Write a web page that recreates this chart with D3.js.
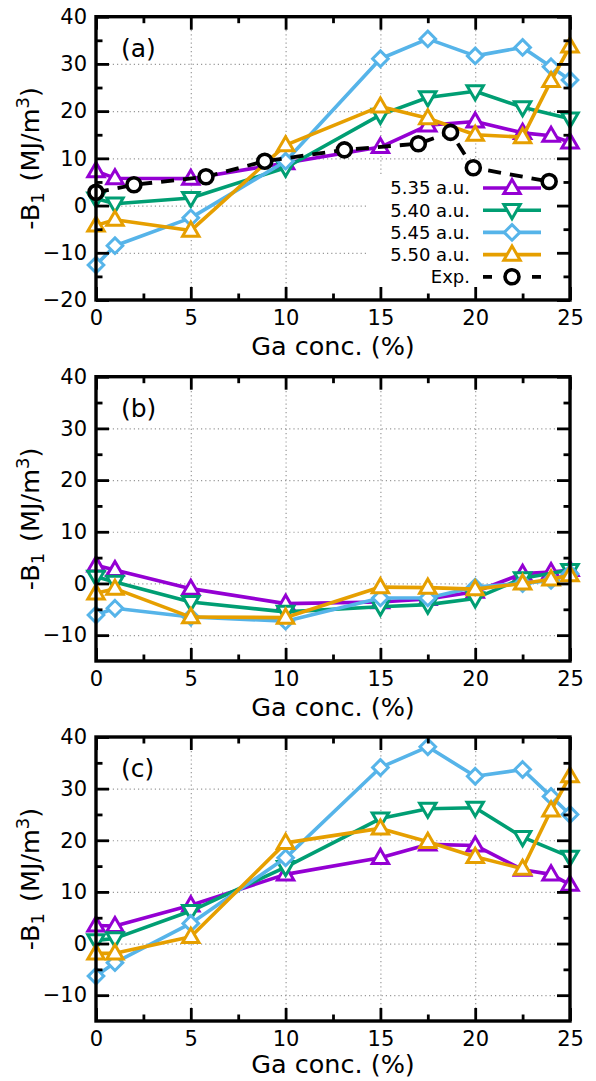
<!DOCTYPE html>
<html>
<head>
<meta charset="utf-8">
<script src="https://d3js.org/d3.v7.min.js"></script>
<style>
  html, body { margin: 0; padding: 0; background: #fff; }
  svg { display: block; font-family: "DejaVu Sans", Verdana, sans-serif; }
</style>
</head>
<body>
<div id="chart"></div>
<script>
// Ga concentration (%) at which the calculations were done
const gaConc = [0, 1, 5, 10, 15, 17.5, 20, 22.5, 24, 25];

// Panel (a): -B1 (MJ/m^3) for four lattice constants
const a535 = [7.3, 5.8, 5.7, 9.0, 12.4, 17.0, 17.8, 15.4, 14.8, 13.4];
const a540 = [1.5, 0.4, 1.6, 8.0, 19.2, 22.9, 24.2, 20.8, null, 18.4];
const a545 = [-12.6, -8.5, -2.6, 9.4, 31.1, 35.3, 31.7, 33.5, 29.4, 26.6];
const a550 = [-4.2, -3.0, -5.3, 12.8, 21.0, 18.5, 15.0, 14.5, 26.4, 33.7];

// Panel (a): experimental values
const expConc = [0, 2, 5.8, 8.9, 13.1, 17, 18.7, 19.9, 23.9];
const expB1 = [2.8, 4.4, 6.1, 9.4, 11.8, 13.1, 15.5, 8.0, 5.1];

// Panel (b)
const b535 = [3.5, 2.6, -1.0, -3.9, -3.6, -3.0, -1.6, 1.9, 2.2, 2.6];
const b540 = [1.3, 0.3, -3.6, -5.5, -4.5, -4.1, -2.9, 1.0, null, 2.6];
const b545 = [-6.1, -4.8, -6.5, -7.3, -2.8, -2.8, -0.7, 0.0, 0.6, 1.9];
const b550 = [-1.9, -1.0, -6.5, -6.6, -0.7, -0.8, -1.1, 0.0, 0.8, 1.6];

// Panel (c)
const c535 = [3.5, 3.4, 7.4, 13.4, 16.6, 19.2, 19.0, 14.3, 13.4, 11.4];
const c540 = [0.6, 1.0, 6.3, 14.8, 24.2, 26.1, 26.3, 20.6, null, 16.8];
const c545 = [-6.3, -3.7, 3.9, 16.6, 34.1, 38.1, 32.4, 33.7, 28.5, 25.0];
const c550 = [-1.9, -1.9, 1.3, 19.5, 22.3, 19.7, 16.8, 14.5, 25.8, 32.4];

const seriesNames = ["5.35 a.u.", "5.40 a.u.", "5.45 a.u.", "5.50 a.u."];
const expName = "Exp.";
const panelLabels = ["(a)", "(b)", "(c)"];

const xTicks = [0, 5, 10, 15, 20, 25];
const xMinorTicks = [2.5, 7.5, 12.5, 17.5, 22.5];
const yTicksA = [-20, -10, 0, 10, 20, 30, 40];
const yMinorA = [-15, -5, 5, 15, 25, 35];
const yTicksBC = [-10, 0, 10, 20, 30, 40];
const yMinorBC = [-5, 5, 15, 25, 35];

const xTitle = "Ga conc. (%)";

// ---- styling ----
const colors = ["#9400d3", "#009e73", "#56b4e9", "#e69f00"];
const shapes = ["up", "down", "diamond", "up"];

const W = 596, H = 1081;
const left = 96, right = 570;
const panels = [
  { top: 16.7, bottom: 300, yDomain: [-20, 40], yTicks: yTicksA, yMinor: yMinorA,
    series: [a535, a540, a545, a550], exp: true, titleGap: 55 },
  { top: 376.7, bottom: 661, yDomain: [-15, 40], yTicks: yTicksBC, yMinor: yMinorBC,
    series: [b535, b540, b545, b550], exp: false, titleGap: 55 },
  { top: 737, bottom: 1021, yDomain: [-15, 40], yTicks: yTicksBC, yMinor: yMinorBC,
    series: [c535, c540, c545, c550], exp: false, titleGap: 52 }
];

const svg = d3.select("#chart").append("svg")
  .attr("width", W).attr("height", H);

const x = d3.scaleLinear().domain([0, 25]).range([left, right]);

function markerPath(shape) {
  if (shape === "up") return "M0,-8.5L8.2,5.6L-8.2,5.6Z";
  if (shape === "down") return "M0,8.5L8.2,-5.6L-8.2,-5.6Z";
  if (shape === "diamond") return "M0,-7.8L7.8,0L0,7.8L-7.8,0Z";
  return d3.symbol(d3.symbolCircle, 140)();
}

function styleTicks(g, width) {
  g.select(".domain").remove();
  g.selectAll(".tick line").attr("stroke", "#000").attr("stroke-width", width);
}

panels.forEach((p, i) => {
  const y = d3.scaleLinear().domain(p.yDomain).range([p.bottom, p.top]);
  const ph = p.bottom - p.top;
  const g = svg.append("g");

  // dotted grid at major ticks
  const grid = g.append("g").attr("class", "grid");
  grid.append("g").attr("transform", `translate(0,${p.bottom})`)
    .call(d3.axisBottom(x).tickValues(xTicks.slice(1, -1)).tickSize(-ph).tickFormat(""))
    .call(s => s.select(".domain").remove());
  grid.append("g").attr("transform", `translate(${left},0)`)
    .call(d3.axisLeft(y).tickValues(p.yTicks.filter(v => v > p.yDomain[0] && v < p.yDomain[1]))
      .tickSize(-(right - left)).tickFormat(""))
    .call(s => s.select(".domain").remove());
  grid.selectAll(".tick line")
    .attr("stroke", "#999").attr("stroke-width", 1.2).attr("stroke-dasharray", "1.2,3");

  // key background hides the grid behind it
  if (p.exp) {
    g.append("rect").attr("x", 368).attr("y", 176)
      .attr("width", right - 368 - 2).attr("height", p.bottom - 176 - 2)
      .attr("fill", "#fff");
  }

  // series
  const line = d3.line().x(d => x(d[0])).y(d => y(d[1]));
  p.series.forEach((vals, k) => {
    const pts = gaConc.map((c, j) => [c, vals[j]]).filter(d => d[1] !== null);
    g.append("path").datum(pts).attr("d", line)
      .attr("fill", "none").attr("stroke", colors[k]).attr("stroke-width", 3.6)
      .attr("stroke-linejoin", "round");
    g.selectAll(null).data(pts).enter().append("path")
      .attr("transform", d => `translate(${x(d[0])},${y(d[1])})`)
      .attr("d", markerPath(shapes[k]))
      .attr("fill", "#fff").attr("stroke", colors[k]).attr("stroke-width", 3)
      .attr("stroke-linejoin", "miter");
  });

  if (p.exp) {
    const pts = expConc.map((c, j) => [c, expB1[j]]);
    g.append("path").datum(pts).attr("d", line)
      .attr("fill", "none").attr("stroke", "#000").attr("stroke-width", 3.8)
      .attr("stroke-dasharray", "13,9");
    g.selectAll(null).data(pts).enter().append("circle")
      .attr("cx", d => x(d[0])).attr("cy", d => y(d[1])).attr("r", 7)
      .attr("fill", "#fff").attr("stroke", "#000").attr("stroke-width", 3.6);
  }

  // axes with inward ticks, mirrored on all sides
  const axB = g.append("g").attr("transform", `translate(0,${p.bottom})`)
    .call(d3.axisBottom(x).tickValues(xTicks).tickSize(-13).tickPadding(10).tickFormat(d3.format("d")));
  styleTicks(axB, 2.8);
  axB.selectAll("text").attr("font-size", 21).attr("fill", "#000")
    .attr("font-family", "DejaVu Sans, Verdana, sans-serif");
  const axBm = g.append("g").attr("transform", `translate(0,${p.bottom})`)
    .call(d3.axisBottom(x).tickValues(xMinorTicks).tickSize(-6.5).tickFormat(""));
  styleTicks(axBm, 2.8);
  const axT = g.append("g").attr("transform", `translate(0,${p.top})`)
    .call(d3.axisTop(x).tickValues(xTicks).tickSize(-13).tickFormat(""));
  styleTicks(axT, 2.8);
  const axTm = g.append("g").attr("transform", `translate(0,${p.top})`)
    .call(d3.axisTop(x).tickValues(xMinorTicks).tickSize(-6.5).tickFormat(""));
  styleTicks(axTm, 2.8);

  const axL = g.append("g").attr("transform", `translate(${left},0)`)
    .call(d3.axisLeft(y).tickValues(p.yTicks)
      .tickSize(-13).tickPadding(9).tickFormat(d3.format("d")));
  styleTicks(axL, 2.8);
  axL.selectAll("text").attr("font-size", 21).attr("fill", "#000")
    .attr("font-family", "DejaVu Sans, Verdana, sans-serif");
  const axLm = g.append("g").attr("transform", `translate(${left},0)`)
    .call(d3.axisLeft(y).tickValues(p.yMinor).tickSize(-6.5).tickFormat(""));
  styleTicks(axLm, 2.8);
  const axR = g.append("g").attr("transform", `translate(${right},0)`)
    .call(d3.axisRight(y).tickValues(p.yTicks).tickSize(-13).tickFormat(""));
  styleTicks(axR, 2.8);
  const axRm = g.append("g").attr("transform", `translate(${right},0)`)
    .call(d3.axisRight(y).tickValues(p.yMinor).tickSize(-6.5).tickFormat(""));
  styleTicks(axRm, 2.8);

  // frame
  g.append("rect").attr("x", left).attr("y", p.top)
    .attr("width", right - left).attr("height", ph)
    .attr("fill", "none").attr("stroke", "#000").attr("stroke-width", 3.4);

  // panel label
  g.append("text").attr("x", 121).attr("y", p.top + 40)
    .attr("font-size", 25).attr("fill", "#000").text(panelLabels[i]);

  // axis titles
  g.append("text").attr("x", (left + right) / 2).attr("y", p.bottom + p.titleGap)
    .attr("text-anchor", "middle").attr("font-size", 25.5).attr("fill", "#000")
    .text(xTitle);

  const yt = g.append("text")
    .attr("transform", `translate(39,${(p.top + p.bottom) / 2}) rotate(-90)`)
    .attr("text-anchor", "middle").attr("font-size", 25.5).attr("fill", "#000");
  yt.append("tspan").text("-B");
  yt.append("tspan").attr("font-size", 18).attr("dy", 5).text("1");
  yt.append("tspan").attr("dy", -5).attr("dx", 11).text("(MJ/m");
  yt.append("tspan").attr("font-size", 18).attr("dy", -10).text("3");
  yt.append("tspan").attr("dy", 10).text(")");

  // key
  if (p.exp) {
    const key = g.append("g");
    const rowY = j => 188 + j * 22.2;
    seriesNames.forEach((name, k) => {
      key.append("text").attr("x", 470).attr("y", rowY(k)).attr("dy", "0.36em")
        .attr("text-anchor", "end").attr("font-size", 18).attr("fill", "#000").text(name);
      key.append("line").attr("x1", 483).attr("x2", 541).attr("y1", rowY(k)).attr("y2", rowY(k))
        .attr("stroke", colors[k]).attr("stroke-width", 3.6);
      key.append("path").attr("transform", `translate(512,${rowY(k)})`)
        .attr("d", markerPath(shapes[k]))
        .attr("fill", "#fff").attr("stroke", colors[k]).attr("stroke-width", 3);
    });
    const ey = rowY(4);
    key.append("text").attr("x", 470).attr("y", ey).attr("dy", "0.36em")
      .attr("text-anchor", "end").attr("font-size", 18).attr("fill", "#000").text(expName);
    key.append("line").attr("x1", 483).attr("x2", 541).attr("y1", ey).attr("y2", ey)
      .attr("stroke", "#000").attr("stroke-width", 3.8).attr("stroke-dasharray", "9,40");
    key.append("circle").attr("cx", 512).attr("cy", ey).attr("r", 7)
      .attr("fill", "#fff").attr("stroke", "#000").attr("stroke-width", 3.6);
  }
});
</script>
</body>
</html>
